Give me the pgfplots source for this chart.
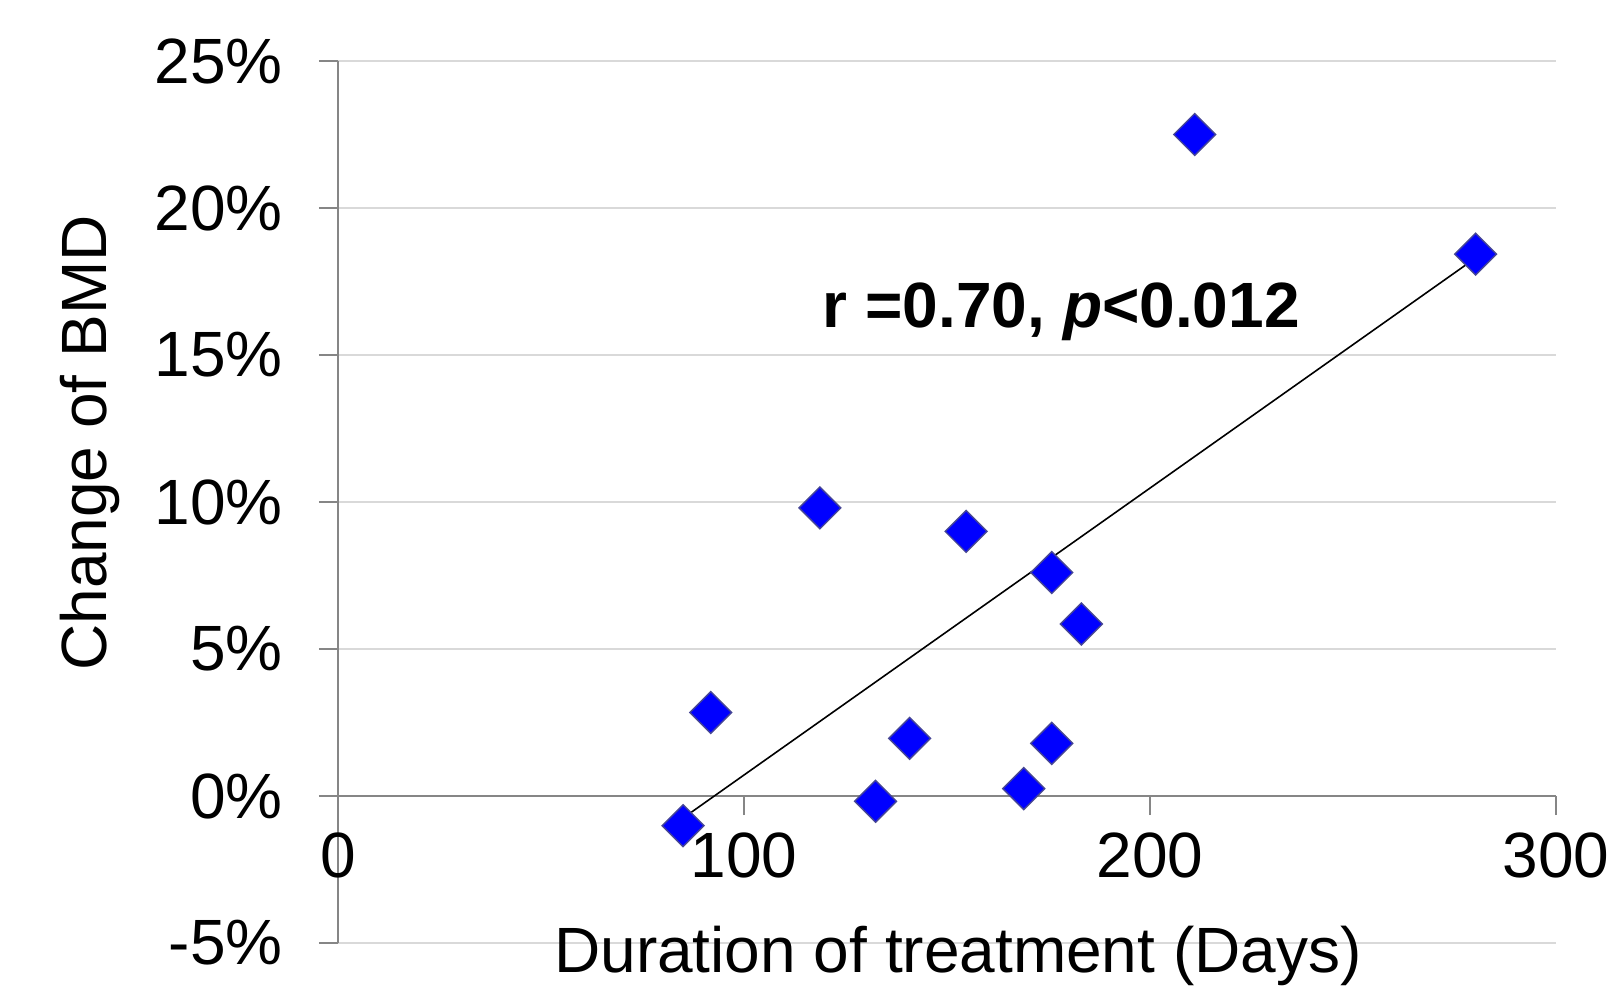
\documentclass[border=0pt]{standalone}
\usepackage{pgfplots}
\pgfplotsset{compat=1.18}
\usepackage{fontspec}
\setmainfont{Liberation Sans}
\definecolor{axgray}{RGB}{134,134,134}
\definecolor{gridgray}{RGB}{217,217,217}
\definecolor{mblue}{RGB}{0,0,255}
\definecolor{medge}{RGB}{70,70,150}
\begin{document}
\begin{tikzpicture}
\path[use as bounding box] (-169pt,-29pt) rectangle (638.5pt,471.5pt);
\begin{axis}[
 at={(0,0)}, anchor=south west,
 scale only axis, width=609pt, height=441pt,
 xmin=0, xmax=300, ymin=-5, ymax=25,
 axis x line=middle, axis y line=left,
 axis line style={-, axgray, line width=1pt},
 hide obscured x ticks=false, hide obscured y ticks=false,
 xtick={0,100,200,300}, xticklabels={0,100,200,300},
 ytick={-5,0,5,10,15,20,25}, yticklabels={-5\%,0\%,5\%,10\%,15\%,20\%,25\%},
 tick align=outside, major tick length=9.5pt,
 tick style={axgray, line width=1pt},
 ymajorgrids, grid style={gridgray, line width=0.75pt},
 ticklabel style={font=\fontsize{32}{38}\selectfont},
 yticklabel style={xshift=-14.7pt},
 xticklabel style={yshift=-5.5pt},
 label style={font=\fontsize{32}{38}\selectfont},
 xlabel={Duration of treatment (Days)},
 ylabel={Change of BMD},
 xlabel style={at={(axis description cs:0.509,-0.034)}, anchor=base},
 ylabel style={at={(axis description cs:-0.2035,0.567)}, anchor=center},
 clip=false,
]
\addplot[only marks, mark=square*, mark size=7.4pt,
  mark options={rotate=45, fill=mblue, draw=medge, line width=0.7pt}]
  coordinates {
  (85.0,-1.01) (91.8,2.84) (118.7,9.80) (132.4,-0.18) (140.8,1.96)
  (154.7,9.0) (168.9,0.25) (175.8,7.6) (175.8,1.79) (183.1,5.85)
  (211.0,22.5) (280.2,18.43)
  };
\addplot[black, line width=0.8pt] coordinates {(85,-0.75) (280.2,18.3)};
\node[anchor=base west, font=\fontsize{32}{38}\selectfont\bfseries]
  at (axis cs:117.7,15.95) {r =0.70, \textit{p}<0.012};
\end{axis}
\end{tikzpicture}
\end{document}
